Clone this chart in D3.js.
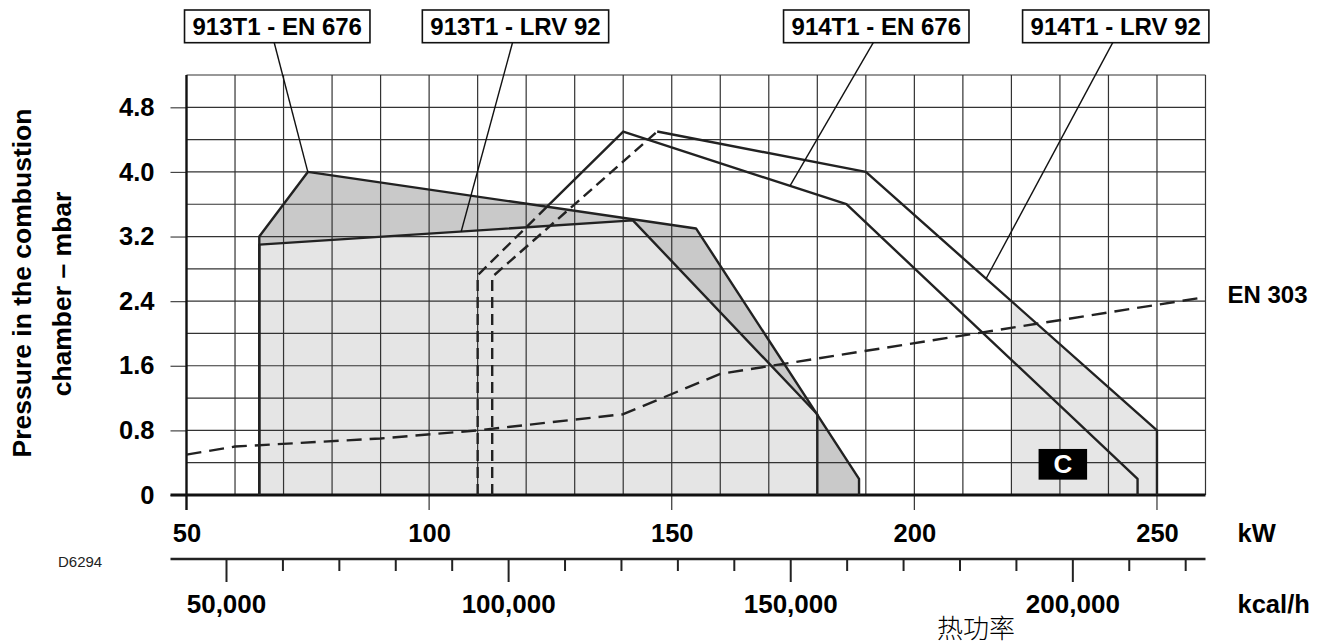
<!DOCTYPE html>
<html>
<head>
<meta charset="utf-8">
<script src="https://cdnjs.cloudflare.com/ajax/libs/d3/7.8.5/d3.min.js"></script>
<style>
  body { margin: 0; background: #fff; }
  svg { display: block; font-family: "Liberation Sans", Arial, sans-serif; }
</style>
</head>
<body>
<svg id="chart"></svg>
<script>
// axes
var kwTicks = [50, 100, 150, 200, 250]
var mbarTicks = [0, 0.8, 1.6, 2.4, 3.2, 4.0, 4.8]
var kcalTicks = [50000, 60000, 70000, 80000, 90000, 100000, 110000, 120000, 130000, 140000, 150000, 160000, 170000, 180000, 190000, 200000, 210000, 220000]
var kcalLabels = [50000, 100000, 150000, 200000]
var kcalPerKw = 860

// working fields [kW, mbar]
var en676_913 = [[65, 0], [65, 3.2], [75, 4.0], [155, 3.3], [188.6, 0.2], [188.6, 0]]
var lrv92_913 = [[65, 0], [65, 3.1], [142, 3.4], [180, 1.0], [180, 0]]
var en676_914_dashed = [[110, 0], [110, 2.72], [124.3, 3.57]]
var en676_914 = [[124.3, 3.57], [140, 4.5], [186, 3.6], [246, 0.2], [246, 0]]
var lrv92_914_dashed = [[113, 0], [113, 2.7], [147, 4.5]]
var lrv92_914 = [[147, 4.5], [190, 4.0], [250, 0.8], [250, 0]]
var en303 = [[50, 0.5], [60, 0.6], [90, 0.7], [110, 0.8], [140, 1.0], [160, 1.5], [260, 2.45]]
var areaC = [[220, 0], [220, 2.4], [250, 0.8], [250, 0]]

// callouts: box centre (kW) and the point the leader goes to
var labelNames = ["913T1 - EN 676", "913T1 - LRV 92", "914T1 - EN 676", "914T1 - LRV 92"]
var labelAt = [68.7, 117.8, 192.15, 241.5]
var labelTo = [[75, 4.0], [106.6, 3.26], [174.4, 3.83], [214.8, 2.68]]
var boxC = [225.6, 235.6, 0.19, 0.57]

var dimensions = ({
    width: 1326,
    height: 644,
    margin: {
        top: 75,
        bottom: 149,
        right: 120.5,
        left: 186.5
    }
})

var svg = d3.select("#chart")
            .attr("width", dimensions.width)
            .attr("height", dimensions.height)

var xScale = d3.scaleLinear()
               .domain([50, 260])
               .range([dimensions.margin.left, dimensions.width - dimensions.margin.right])

var yScale = d3.scaleLinear()
               .domain([0, 5.2])
               .range([dimensions.height - dimensions.margin.bottom, dimensions.margin.top])

var kcalScale = d3.scaleLinear()
                  .domain([50 * kcalPerKw, 260 * kcalPerKw])
                  .range(xScale.range())

var line = d3.line()
             .x(function(d) { return xScale(d[0]) })
             .y(function(d) { return yScale(d[1]) })

var x0 = xScale(50), x1 = xScale(260), y0 = yScale(0), y1 = yScale(5.2)

// fills
svg.append("path").attr("d", line(en676_913) + "Z").attr("fill", "#c9c9c9")
svg.append("path").attr("d", line(lrv92_913) + "Z").attr("fill", "#e5e5e5")
svg.append("path").attr("d", line(areaC) + "Z").attr("fill", "#e6e6e6")

// grid
var grid = svg.append("g").attr("stroke", "#333").attr("stroke-width", 1.2)
grid.selectAll("v")
    .data(d3.range(60, 261, 10))
    .enter()
    .append("line")
    .attr("x1", function(d) { return xScale(d) })
    .attr("x2", function(d) { return xScale(d) })
    .attr("y1", y1)
    .attr("y2", function(d) { return kwTicks.indexOf(d) >= 0 ? y0 + 15 : y0 })
grid.selectAll("h")
    .data(d3.range(1, 14).map(function(i) { return i * 0.4 }))
    .enter()
    .append("line")
    .attr("x1", x0)
    .attr("x2", x1)
    .attr("y1", function(d) { return yScale(d) })
    .attr("y2", function(d) { return yScale(d) })

// y axis
var yAxis = d3.axisLeft(yScale)
              .tickValues(mbarTicks)
              .tickSize(16)
              .tickPadding(16)
              .tickFormat(function(d) { return d === 0 ? "0" : d3.format(".1f")(d) })
var yg = svg.append("g")
    .attr("transform", "translate(" + x0 + ",0)")
    .call(yAxis)
yg.select(".domain").remove()
yg.selectAll("line").attr("stroke", "#444").attr("stroke-width", 1.2)
yg.selectAll("text").attr("font-size", 25.5).attr("font-weight", "bold").attr("fill", "#000")

// kW axis
var xAxis = d3.axisBottom(xScale)
              .tickValues(kwTicks)
              .tickSize(0)
              .tickPadding(29)
var xg = svg.append("g")
    .attr("transform", "translate(0," + y0 + ")")
    .call(xAxis)
xg.select(".domain").remove()
xg.selectAll("text").attr("font-size", 25.5).attr("font-weight", "bold").attr("fill", "#000")

// axis lines
svg.append("line").attr("x1", x0).attr("x2", x0).attr("y1", y1).attr("y2", y0 + 15)
   .attr("stroke", "#111").attr("stroke-width", 2.4)
svg.append("line").attr("x1", x0 - 16).attr("x2", x1).attr("y1", y0).attr("y2", y0)
   .attr("stroke", "#111").attr("stroke-width", 2.8)

// kcal/h axis
var kcalY = 559
var kAxis = d3.axisBottom(kcalScale)
              .tickValues(kcalTicks)
              .tickSize(12)
              .tickSizeOuter(0)
              .tickPadding(24)
              .tickFormat(function(d) { return kcalLabels.indexOf(d) >= 0 ? d3.format(",")(d) : "" })
var kg = svg.append("g")
    .attr("transform", "translate(0," + kcalY + ")")
    .call(kAxis)
kg.select(".domain").remove()
kg.selectAll("line")
  .attr("stroke", "#222").attr("stroke-width", 2)
  .attr("y2", function(d) { return kcalLabels.indexOf(d) >= 0 ? 23 : 12 })
kg.selectAll("text").attr("font-size", 26).attr("font-weight", "bold").attr("fill", "#000")
svg.append("line").attr("x1", x0 - 16).attr("x2", x1).attr("y1", kcalY).attr("y2", kcalY)
   .attr("stroke", "#222").attr("stroke-width", 2.6)

// outlines
var outline = svg.append("g").attr("fill", "none").attr("stroke", "#222").attr("stroke-width", 2.4)
              .attr("stroke-linejoin", "round")
outline.append("path").attr("d", line(en676_913))
outline.append("path").attr("d", line(lrv92_913))
outline.append("path").attr("d", line(en676_914))
outline.append("path").attr("d", line(lrv92_914))
outline.append("path").attr("d", line(en676_914_dashed)).attr("stroke-dasharray", "11,6")
outline.append("path").attr("d", line(lrv92_914_dashed)).attr("stroke-dasharray", "11,6")
outline.append("path").attr("d", line(en303)).attr("stroke-dasharray", "15,8")

// callouts
labelNames.forEach(function(name, i) {
    var cx = xScale(labelAt[i])
    var g = svg.append("g")
    var box = g.append("rect")
    var t = g.append("text")
        .attr("x", cx).attr("y", 35)
        .attr("text-anchor", "middle")
        .attr("font-size", 24).attr("font-weight", "bold")
        .text(name)
    var w = t.node().getComputedTextLength()
    box.attr("x", cx - w / 2 - 8).attr("y", 10)
       .attr("width", w + 16).attr("height", 32.7)
       .attr("fill", "#fff").attr("stroke", "#111").attr("stroke-width", 1.6)
    g.append("line")
        .attr("x1", cx - 3).attr("y1", 42.7)
        .attr("x2", xScale(labelTo[i][0])).attr("y2", yScale(labelTo[i][1]))
        .attr("stroke", "#111").attr("stroke-width", 1.4)
})

// C marker
svg.append("rect")
   .attr("x", xScale(boxC[0])).attr("y", yScale(boxC[3]))
   .attr("width", xScale(boxC[1]) - xScale(boxC[0]))
   .attr("height", yScale(boxC[2]) - yScale(boxC[3]))
   .attr("fill", "#000")
svg.append("text")
   .attr("x", xScale((boxC[0] + boxC[1]) / 2)).attr("y", yScale((boxC[2] + boxC[3]) / 2) + 9)
   .attr("text-anchor", "middle").attr("font-size", 26).attr("font-weight", "bold")
   .attr("fill", "#fff").text("C")

// texts
var last = en303[en303.length - 1]
svg.append("text").attr("x", xScale(last[0]) + 22).attr("y", yScale(last[1]) + 6)
   .attr("font-size", 24).attr("font-weight", "bold").text("EN 303")
svg.append("text").attr("x", x1 + 32).attr("y", 542)
   .attr("font-size", 25.5).attr("font-weight", "bold").text("kW")
svg.append("text").attr("x", x1 + 32).attr("y", 613)
   .attr("font-size", 25.5).attr("font-weight", "bold").text("kcal/h")
svg.append("text").attr("x", 58).attr("y", 567)
   .attr("font-size", 15).attr("fill", "#222").text("D6294")
svg.append("text").attr("x", 976).attr("y", 638)
   .attr("text-anchor", "middle").attr("font-size", 26).attr("font-weight", 300)
   .attr("font-family", "'Noto Sans CJK SC', sans-serif").text("热功率")

svg.append("text")
   .attr("transform", "translate(31,283) rotate(-90)")
   .attr("text-anchor", "middle").attr("font-size", 26.5).attr("font-weight", "bold")
   .text("Pressure in the combustion")
svg.append("text")
   .attr("transform", "translate(71,294) rotate(-90)")
   .attr("text-anchor", "middle").attr("font-size", 26.5).attr("font-weight", "bold")
   .text("chamber – mbar")
</script>
</body>
</html>
